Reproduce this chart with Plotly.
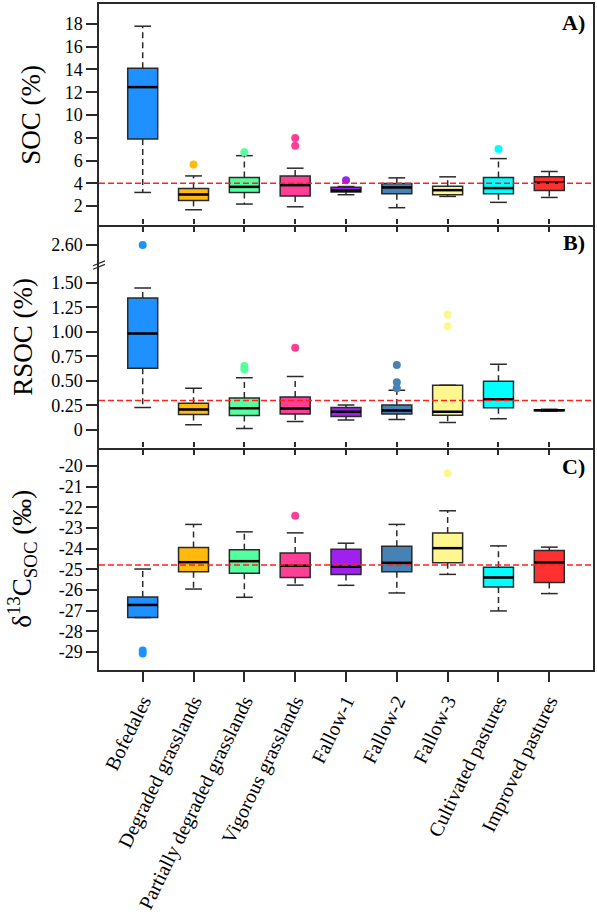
import plotly.graph_objects as go

categories = ["Bofedales", "Degraded grasslands", "Partially degraded grasslands",
              "Vigorous grasslands", "Fallow-1", "Fallow-2", "Fallow-3",
              "Cultivated pastures", "Improved pastures"]
colors = ["#1E90FF", "#FFB90F", "#54FF9F", "#FF3E96", "#A020F0",
          "#4682B4", "#FFF68F", "#00FFFF", "#FF3030"]

# Panel A: SOC (%)
soc_lo = [3.2, 1.68, 2.18, 1.94, 3.0, 1.86, 2.85, 2.33, 2.76]
soc_q1 = [7.9, 2.5, 3.2, 2.88, 3.23, 3.08, 3.0, 3.08, 3.37]
soc_med = [12.45, 3.02, 3.69, 3.84, 3.37, 3.64, 3.4, 3.58, 4.07]
soc_q3 = [14.1, 3.55, 4.51, 4.65, 3.66, 3.99, 3.75, 4.51, 4.57]
soc_hi = [17.8, 4.65, 6.43, 5.33, 3.72, 4.48, 4.57, 6.17, 5.04]
soc_out_cat = [1, 2, 3, 3, 4, 7]
soc_out_val = [5.65, 6.72, 7.98, 7.31, 4.28, 7.01]

# Panel B: RSOC (%)
rsoc_lo = [0.227, 0.051, 0.014, 0.085, 0.099, 0.105, 0.075, 0.112, 0.19]
rsoc_q1 = [0.627, 0.156, 0.146, 0.16, 0.136, 0.16, 0.149, 0.224, 0.195]
rsoc_med = [0.983, 0.207, 0.22, 0.217, 0.183, 0.197, 0.183, 0.312, 0.20]
rsoc_q3 = [1.345, 0.271, 0.325, 0.335, 0.227, 0.254, 0.454, 0.495, 0.205]
rsoc_hi = [1.447, 0.424, 0.532, 0.543, 0.254, 0.403, 0.454, 0.668, 0.21]
rsoc_out_cat = [0, 2, 2, 3, 5, 5, 5, 6, 6]
rsoc_out_val = [2.60, 0.650, 0.617, 0.837, 0.661, 0.485, 0.424, 1.176, 1.057]

# Panel C: d13C SOC (permil)
d13_lo = [-27.33, -25.95, -26.35, -25.76, -25.77, -26.14, -25.24, -27.01, -26.17]
d13_q1 = [-27.33, -25.11, -25.18, -25.39, -25.24, -25.11, -24.68, -25.85, -25.63]
d13_med = [-26.72, -24.65, -24.6, -24.82, -24.87, -24.68, -23.97, -25.39, -24.66]
d13_q3 = [-26.33, -23.94, -24.05, -24.21, -24.02, -23.88, -23.23, -24.9, -24.08]
d13_hi = [-24.98, -22.82, -23.18, -23.23, -23.73, -22.82, -22.16, -23.86, -23.92]
d13_out_cat = [0, 0, 3, 6]
d13_out_val = [-28.93, -29.07, -22.4, -20.34]

ref_lines = [4.0, 0.30, -24.78]

soc_ticks = [2, 4, 6, 8, 10, 12, 14, 16, 18]
rsoc_ticks = [0, 0.25, 0.5, 0.75, 1.0, 1.25, 1.5]
rsoc_ticktext = ["0", "0.25", "0.50", "0.75", "1.00", "1.25", "1.50"]
rsoc_top_ticks = [2.6]
rsoc_top_ticktext = ["2.60"]
d13_ticks = [-20, -21, -22, -23, -24, -25, -26, -27, -28, -29]
d13_ticktext = ["-20", "-21", "-22", "-23", "-24", "-25", "-26", "-27", "-28", "-29"]

FONT = "Liberation Serif, Times New Roman, serif"
LINE = "#2a2a2a"
BW = 0.59
CW = 0.165
XR = [-0.86, 8.86]
RSOC_BREAK = 1.684
idx = list(range(len(categories)))

fig = go.Figure()


def add_panel(lo, q1, med, q3, hi, ocat, oval, xa, ya, ya_top=None):
    wx, wy, cx, cy, mx, my = [], [], [], [], [], []
    for i in idx:
        wx += [i, i, None, i, i, None]
        wy += [q3[i], hi[i], None, q1[i], lo[i], None]
        cx += [i - CW, i + CW, None, i - CW, i + CW, None]
        cy += [hi[i], hi[i], None, lo[i], lo[i], None]
        mx += [i - BW / 2, i + BW / 2, None]
        my += [med[i], med[i], None]
    fig.add_trace(go.Scatter(x=wx, y=wy, mode="lines", xaxis=xa, yaxis=ya,
                             line=dict(color=LINE, width=1.5, dash="6px,4px"),
                             showlegend=False, hoverinfo="skip"))
    fig.add_trace(go.Scatter(x=cx, y=cy, mode="lines", xaxis=xa, yaxis=ya,
                             line=dict(color=LINE, width=1.5),
                             showlegend=False, hoverinfo="skip"))
    for i in idx:
        fig.add_trace(go.Box(x=[i], q1=[q1[i]], median=[med[i]], q3=[q3[i]],
                             lowerfence=[q1[i]], upperfence=[q3[i]],
                             width=BW, fillcolor=colors[i],
                             line=dict(color=LINE, width=1.5),
                             boxpoints=False, xaxis=xa, yaxis=ya,
                             showlegend=False, hoverinfo="skip"))
    fig.add_trace(go.Scatter(x=mx, y=my, mode="lines", xaxis=xa, yaxis=ya,
                             line=dict(color="black", width=2.5),
                             showlegend=False, hoverinfo="skip"))
    for c, v in zip(ocat, oval):
        target = ya
        if ya_top is not None and v > RSOC_BREAK:
            target = ya_top
        xa_t = xa if target == ya else "x2"
        fig.add_trace(go.Scatter(x=[c], y=[v], mode="markers", xaxis=xa_t, yaxis=target,
                                 marker=dict(color=colors[c], size=8, line=dict(width=0)),
                                 showlegend=False, hoverinfo="skip"))


add_panel(soc_lo, soc_q1, soc_med, soc_q3, soc_hi, soc_out_cat, soc_out_val, "x", "y")
add_panel(rsoc_lo, rsoc_q1, rsoc_med, rsoc_q3, rsoc_hi, rsoc_out_cat, rsoc_out_val, "x3", "y3", ya_top="y2")
add_panel(d13_lo, d13_q1, d13_med, d13_q3, d13_hi, d13_out_cat, d13_out_val, "x4", "y4")
fig.add_trace(go.Scatter(x=[], y=[], xaxis="x5", yaxis="y4", showlegend=False))

W, H = 597, 915
L, R, T, B = 99, 2, 3, 243
ph = H - T - B
pw = W - L - R


def fy(py):
    return (H - B - py) / ph


def fx(px):
    return (px - L) / pw


tickfont = dict(family=FONT, size=18, color="black")
common_x = dict(range=XR, tickvals=idx, showgrid=False, zeroline=False,
                showline=True, linecolor=LINE, linewidth=1.5, tickcolor=LINE,
                tickwidth=1.5, showticklabels=False)
common_y = dict(showgrid=False, zeroline=False, showline=True, linecolor=LINE,
                linewidth=1.5, ticks="outside", ticklen=11, tickcolor=LINE,
                tickwidth=1.5, mirror=True, tickfont=tickfont)

dA = [fy(225), 1.0]
dBt = [fy(265), fy(225)]
dBb = [fy(449), fy(265)]
dC = [0.0, fy(449)]

fig.update_layout(
    width=W, height=H,
    margin=dict(l=L, r=R, t=T, b=B, pad=0),
    plot_bgcolor="white", paper_bgcolor="white",
    font=dict(family=FONT, color="black"),
    xaxis=dict(common_x, anchor="y", ticks="outside", ticklen=5, mirror=True),
    yaxis=dict(common_y, domain=dA, anchor="x", range=[0.34, 19.75],
               tickvals=soc_ticks),
    xaxis2=dict(common_x, anchor="y2", side="top", ticks="outside", ticklen=5,
                showline=False),
    yaxis2=dict(common_y, domain=dBt, anchor="x2", range=[2.397, 2.803],
                tickvals=rsoc_top_ticks, ticktext=rsoc_top_ticktext),
    xaxis3=dict(common_x, anchor="y3", ticks="outside", ticklen=5),
    yaxis3=dict(common_y, domain=dBb, anchor="x3", range=[-0.186, RSOC_BREAK],
                tickvals=rsoc_ticks, ticktext=rsoc_ticktext),
    xaxis4=dict(common_x, anchor="y4", ticks="outside", ticklen=10,
                showticklabels=True, ticktext=categories, tickangle=-64,
                tickfont=dict(family=FONT, size=20, color="black")),
    xaxis5=dict(common_x, anchor="y4", overlaying="x4", side="top",
                ticks="outside", ticklen=5, showline=False),
    yaxis4=dict(common_y, domain=dC, anchor="x4", range=[-29.87, -19.12],
                tickvals=d13_ticks, ticktext=d13_ticktext),
)

# reference (mean) lines
for val, yr, xr in zip(ref_lines, ["y", "y3", "y4"], ["x domain", "x3 domain", "x4 domain"]):
    fig.add_shape(type="line", xref=xr, yref=yr, x0=0, x1=1, y0=val, y1=val,
                  layer="above", line=dict(color="#FF2020", width=1.5, dash="6px,3px"))

# axis break marks
for dy in (0, 3.5):
    fig.add_shape(type="line", xref="paper", yref="paper",
                  x0=fx(93), x1=fx(105), y0=fy(266 + dy), y1=fy(261 + dy),
                  line=dict(color=LINE, width=1.2))

# panel labels
for lab, py in zip(["A)", "B)", "C)"], [22, 243, 468]):
    fig.add_annotation(text="<b>" + lab + "</b>", xref="paper", yref="paper",
                       x=fx(589), y=fy(py), xanchor="right", yanchor="middle",
                       showarrow=False, font=dict(family=FONT, size=22, color="black"))

# axis titles
titles = ["SOC (%)", "RSOC (%)", "δ<sup>13</sup>C<sub>SOC</sub> (‰)"]
tx = [30, 22, 21]
ty = [114, 337, 560]
for t, x, y in zip(titles, tx, ty):
    fig.add_annotation(text=t, xref="paper", yref="paper", x=fx(x), y=fy(y),
                       xanchor="center", yanchor="middle", textangle=-90,
                       showarrow=False, font=dict(family=FONT, size=27, color="black"))

fig.write_html("out.html", config={"displayModeBar": False},
               post_script="document.body.style.margin='0px';document.body.style.overflow='hidden';")
